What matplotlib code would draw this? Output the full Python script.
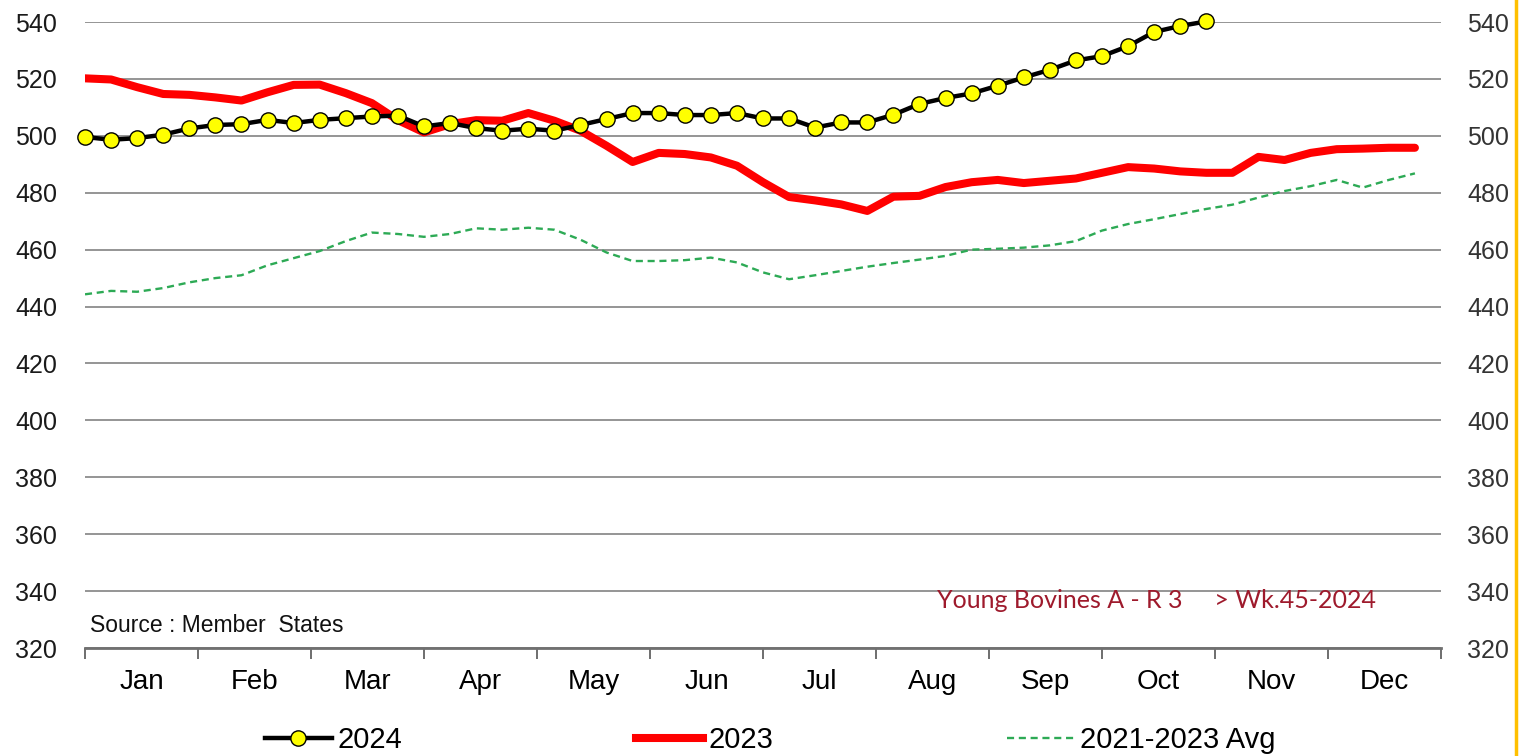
import matplotlib
matplotlib.use("Agg")
import matplotlib.pyplot as plt
from matplotlib.lines import Line2D

plt.rcParams['font.family'] = ['Liberation Sans', 'DejaVu Sans']

# weekly prices, week 1 .. 52
prices_2024 = [499.6, 498.6, 499.2, 500.4, 502.6, 503.8, 504.1, 505.6, 504.5, 505.6,
               506.2, 506.8, 507.1, 503.3, 504.5, 502.7, 501.8, 502.5, 501.8, 503.8,
               505.9, 508.0, 508.0, 507.3, 507.3, 508.0, 506.1, 506.1, 502.9, 504.7,
               504.7, 507.4, 511.2, 513.3, 514.9, 517.6, 520.5, 523.2, 526.5, 528.0,
               531.5, 536.5, 538.6, 540.2]
prices_2023 = [520.2, 519.8, 517.1, 514.7, 514.4, 513.5, 512.4, 515.3, 517.9, 518.0,
               515.0, 511.5, 505.5, 501.2, 504.1, 505.5, 505.3, 508.0, 505.3, 501.8,
               496.5, 490.8, 494.0, 493.6, 492.4, 489.5, 483.7, 478.5, 477.3, 475.9,
               473.6, 478.6, 478.9, 482.0, 483.7, 484.5, 483.4, 484.2, 485.0, 487.0,
               489.0, 488.5, 487.5, 487.0, 487.0, 492.6, 491.5, 494.0, 495.3, 495.5,
               495.8, 495.8]
avg_2021_2023 = [444.3, 445.5, 445.2, 446.5, 448.5, 450.0, 451.0, 454.5, 457.0, 459.5,
                 463.0, 466.0, 465.5, 464.5, 465.5, 467.5, 467.0, 467.7, 467.0, 463.5,
                 459.0, 456.0, 456.0, 456.3, 457.2, 455.5, 452.0, 449.6, 451.0, 452.5,
                 454.0, 455.3, 456.5, 457.8, 460.0, 460.3, 460.7, 461.5, 463.0, 466.7,
                 469.0, 470.7, 472.5, 474.3, 475.8, 478.3, 480.6, 482.3, 484.5, 481.8,
                 484.5, 486.8]
months = ["Jan", "Feb", "Mar", "Apr", "May", "Jun",
          "Jul", "Aug", "Sep", "Oct", "Nov", "Dec"]
y_ticks = list(range(320, 541, 20))

fig = plt.figure(figsize=(15.19, 7.56), dpi=100)
ax = fig.add_axes([85 / 1519, 1 - 648 / 756, 1356 / 1519, 626 / 756])
# right hand copy of the value axis
ax_r = ax.twinx()

weeks_24 = range(len(prices_2024))
weeks_23 = range(len(prices_2023))
weeks_avg = range(len(avg_2021_2023))

ax.plot(weeks_avg, avg_2021_2023, color="#2DAA55", lw=1.7, ls=(0, (3, 2)),
        label="2021-2023 Avg", zorder=3)
ax.plot(weeks_23, prices_2023, color="#FF0000", lw=5.8, solid_capstyle="round",
        solid_joinstyle="round", label="2023", zorder=4)
ax.plot(weeks_24, prices_2024, color="black", lw=3.2, marker="o", ms=11,
        mfc="#FFFF00", mec="black", mew=1.0, label="2024", zorder=5, clip_on=False)

ax.set_xlim(0, 52)
ax.set_ylim(320, 540)
ax.set_yticks(y_ticks)
ax.grid(axis="y", color="#8C8C8C", lw=1.3)
ax.set_axisbelow(True)

ax_r.set_ylim(ax.get_ylim())
ax_r.set_yticks(y_ticks)

month_len = 52 / 12
ax.set_xticks([i * month_len for i in range(13)])
ax.set_xticklabels([])
ax.set_xticks([(i + 0.5) * month_len for i in range(12)], minor=True)
ax.set_xticklabels(months, minor=True, fontsize=20)
ax.tick_params(axis="x", which="major", direction="out", length=8, width=1.2,
               color="#555555")
ax.tick_params(axis="x", which="minor", length=0, pad=15)
ax.tick_params(axis="y", which="both", left=False, right=False, length=0,
               labelsize=18, pad=20, labelcolor="#1A1A1A")
ax_r.tick_params(axis="y", which="both", left=False, right=False, length=0,
                 labelsize=18, pad=19, labelcolor="#333333")

for a in (ax, ax_r):
    for side in ["top", "left", "right"]:
        a.spines[side].set_visible(False)
ax_r.spines["bottom"].set_visible(False)
ax.spines["bottom"].set_color("#707070")
ax.spines["bottom"].set_linewidth(2)

fig.text(90 / 1519, 1 - 625 / 756, "Source : Member  States", fontsize=16.5,
         va="center", ha="left", color="#111111")
fig.text(937 / 1519, 1 - 601 / 756, "Young Bovines A - R 3     > Wk.45-2024",
         fontsize=18, va="center", ha="left", color="#9E1A2C", family="Lato")

handles = [
    Line2D([], [], color="black", lw=3.2, marker="o", ms=11, mfc="#FFFF00",
           mec="black", mew=1.0),
    Line2D([], [], color="#FF0000", lw=5.8),
    Line2D([], [], color="#2DAA55", lw=1.7, ls=(0, (3, 2))),
]
fig.legend(handles, ["2024", "2023", "2021-2023 Avg"], ncol=3, loc="center",
           bbox_to_anchor=(0.507, 1 - 740 / 756), frameon=False, fontsize=21,
           handlelength=2.3, handletextpad=0.2, columnspacing=8.0, numpoints=1)

fig.add_artist(Line2D([1516 / 1519, 1516 / 1519], [0, 1], color="#FFC000", lw=2.5))

fig.savefig("out.png", dpi=100)
